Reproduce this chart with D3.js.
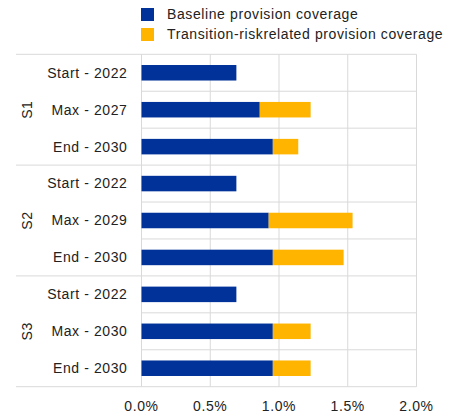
<!DOCTYPE html>
<html>
<head>
<meta charset="utf-8">
<script src="https://cdn.jsdelivr.net/npm/d3@7"></script>
<style>
  body { margin: 0; background: #fff; }
  text { font-family: "Liberation Sans", Arial, sans-serif; fill: #222; letter-spacing: 0.6px; }
</style>
</head>
<body>
<div id="chart"></div>
<script>
var groups = ["S1", "S2", "S3"];
var categories = [
    ["Start - 2022", "Max - 2027", "End - 2030"],
    ["Start - 2022", "Max - 2029", "End - 2030"],
    ["Start - 2022", "Max - 2030", "End - 2030"]
];
var baseline = [0.69, 0.86, 0.955, 0.69, 0.925, 0.955, 0.69, 0.955, 0.955];
var transition = [0, 0.37, 0.185, 0, 0.61, 0.515, 0, 0.275, 0.275];
var seriesNames = ["Baseline provision coverage", "Transition-riskrelated provision coverage"];
var colors = ["#003299", "#ffb400"];
var xTicks = [0, 0.5, 1.0, 1.5, 2.0];

var W = 454, H = 414;
var margin = { top: 54.3, left: 141.5, right: 37.5, bottom: 27.3 };
var width = W - margin.left - margin.right,
    height = H - margin.top - margin.bottom;
var fs = 14;

var svg = d3.select("#chart")
    .append("svg")
    .attr("width", W)
    .attr("height", H);

var rows = [];
categories.forEach(function(cats, g) {
    cats.forEach(function(c, i) {
        var k = g * 3 + i;
        rows.push({ id: k, group: g, label: c, base: baseline[k], trans: transition[k] });
    });
});

var x = d3.scaleLinear().domain([0, 2]).range([0, width]);
var y = d3.scaleBand().domain(rows.map(function(d) { return d.id; })).range([0, height]).paddingInner(0.58).paddingOuter(0.29);
var step = y.step();

var plot = svg.append("g").attr("transform", "translate(" + margin.left + "," + margin.top + ")");

// vertical grid
plot.selectAll("line.vgrid")
    .data(xTicks)
    .enter()
    .append("line")
    .attr("x1", x).attr("x2", x)
    .attr("y1", 0).attr("y2", height)
    .attr("stroke", "#d9d9d9")
    .attr("stroke-width", 1);

// row lines
d3.range(10).forEach(function(i) {
    var isGroup = i % 3 === 0;
    plot.append("line")
        .attr("x1", isGroup ? 16 - margin.left : 0)
        .attr("x2", width)
        .attr("y1", i * step).attr("y2", i * step)
        .attr("stroke", "#d9d9d9")
        .attr("stroke-width", 1);
});

// bars
plot.selectAll("rect.base")
    .data(rows)
    .enter()
    .append("rect")
    .attr("x", x(0))
    .attr("y", function(d) { return y(d.id); })
    .attr("width", function(d) { return x(d.base) - x(0); })
    .attr("height", y.bandwidth())
    .attr("fill", colors[0]);

plot.selectAll("rect.trans")
    .data(rows.filter(function(d) { return d.trans > 0; }))
    .enter()
    .append("rect")
    .attr("x", function(d) { return x(d.base); })
    .attr("y", function(d) { return y(d.id); })
    .attr("width", function(d) { return x(d.base + d.trans) - x(d.base); })
    .attr("height", y.bandwidth())
    .attr("fill", colors[1]);

// category labels
plot.selectAll("text.cat")
    .data(rows)
    .enter()
    .append("text")
    .attr("x", -14)
    .attr("y", function(d) { return y(d.id) + y.bandwidth() / 2; })
    .attr("dy", "0.35em")
    .attr("text-anchor", "end")
    .attr("font-size", fs)
    .text(function(d) { return d.label; });

// group labels
plot.selectAll("text.grp")
    .data(groups)
    .enter()
    .append("text")
    .attr("transform", function(d, i) {
        return "translate(" + (27 - margin.left) + "," + (step * (i * 3 + 1.5)) + ") rotate(-90)";
    })
    .attr("dy", "0.35em")
    .attr("text-anchor", "middle")
    .attr("font-size", fs)
    .text(function(d) { return d; });

// x tick labels
plot.selectAll("text.tick")
    .data(xTicks)
    .enter()
    .append("text")
    .attr("x", x)
    .attr("y", height + 24)
    .attr("text-anchor", "middle")
    .attr("font-size", fs)
    .text(function(d) { return d3.format(".1f")(d) + "%"; });

// legend
var legend = svg.append("g").attr("transform", "translate(141,8)");
seriesNames.forEach(function(name, i) {
    legend.append("rect")
        .attr("x", 0).attr("y", i * 20)
        .attr("width", 13).attr("height", 13)
        .attr("fill", colors[i]);
    legend.append("text")
        .attr("x", 26).attr("y", i * 20 + 6.5)
        .attr("dy", "0.35em")
        .attr("font-size", fs)
        .text(name);
});
</script>
</body>
</html>
